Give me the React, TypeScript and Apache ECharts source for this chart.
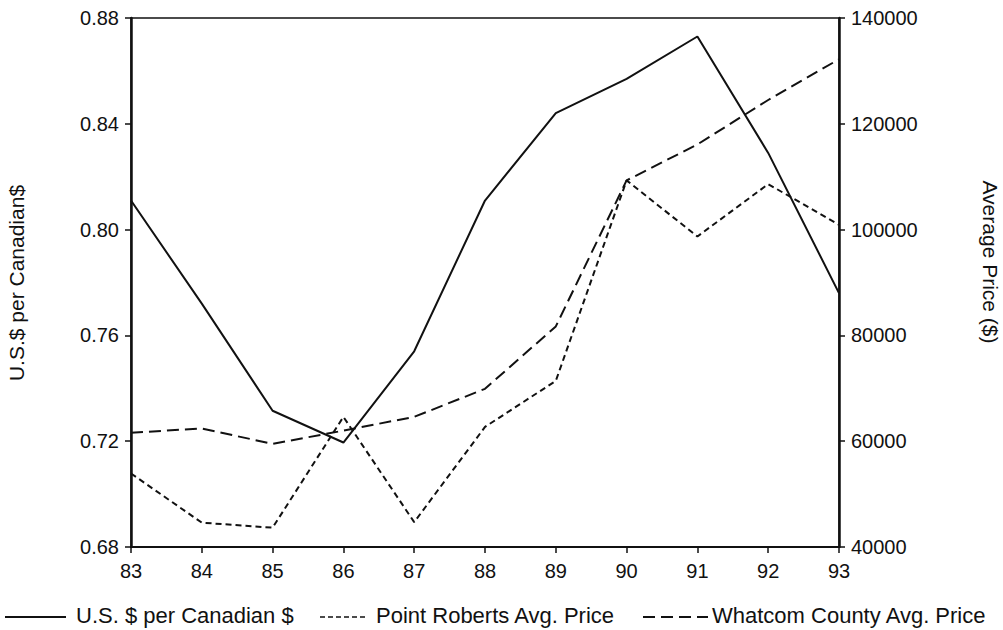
import React, { useEffect, useRef } from "react";
import * as echarts from "echarts";

const years = ["83", "84", "85", "86", "87", "88", "89", "90", "91", "92", "93"];
const usdPerCad = [0.811, 0.772, 0.7315, 0.7195, 0.754, 0.811, 0.844, 0.857, 0.873, 0.829, 0.776];
const pointRoberts = [53900, 44600, 43650, 64600, 44700, 62700, 71400, 109300, 98700, 108600, 100900];
const whatcom = [61600, 62400, 59500, 62000, 64600, 69900, 81700, 109300, 116100, 124500, 132200];

const leftTicks = { min: 0.68, max: 0.88, interval: 0.04 };
const rightTicks = { min: 40000, max: 140000, interval: 20000 };

const seriesNames = ["U.S. $ per Canadian $", "Point Roberts Avg. Price", "Whatcom County Avg. Price"];

const FONT = '"Liberation Sans", Arial, Helvetica, sans-serif';
const INK = "#111";

export default function App() {
  const ref = useRef<HTMLDivElement>(null);
  useEffect(() => {
    if (!ref.current) return;
    const chart = echarts.init(ref.current, undefined, { renderer: "svg" });
    const axisLabel = { color: INK, fontSize: 20, fontFamily: FONT };
    chart.setOption({
      animation: false,
      backgroundColor: "#fff",
      grid: {
        left: 131,
        right: 164,
        top: 18,
        bottom: 83,
        show: true,
        borderColor: INK,
        borderWidth: 1.5,
      },
      xAxis: {
        type: "category",
        data: years,
        boundaryGap: false,
        axisLine: { lineStyle: { color: INK, width: 2 } },
        axisTick: { show: true, length: 6, lineStyle: { color: INK, width: 1.5 } },
        axisLabel: { ...axisLabel, margin: 14 },
        splitLine: { show: false },
      },
      yAxis: [
        {
          type: "value",
          min: leftTicks.min,
          max: leftTicks.max,
          interval: leftTicks.interval,
          position: "left",
          axisLine: { show: true, lineStyle: { color: INK, width: 2.5 } },
          axisTick: { show: true, length: 6, lineStyle: { color: INK, width: 1.5 } },
          axisLabel: { ...axisLabel, margin: 12, formatter: (v: number) => v.toFixed(2) },
          splitLine: { show: false },
        },
        {
          type: "value",
          min: rightTicks.min,
          max: rightTicks.max,
          interval: rightTicks.interval,
          position: "right",
          axisLine: { show: true, lineStyle: { color: INK, width: 2.5 } },
          axisTick: { show: true, length: 6, lineStyle: { color: INK, width: 1.5 } },
          axisLabel: { ...axisLabel, margin: 12, formatter: (v: number) => String(v) },
          splitLine: { show: false },
        },
      ],
      series: [
        {
          name: seriesNames[0],
          type: "line",
          yAxisIndex: 0,
          data: usdPerCad,
          symbol: "none",
          lineStyle: { color: INK, width: 2, type: "solid" },
        },
        {
          name: seriesNames[1],
          type: "line",
          yAxisIndex: 1,
          data: pointRoberts,
          symbol: "none",
          lineStyle: { color: INK, width: 2, type: [6, 4] },
        },
        {
          name: seriesNames[2],
          type: "line",
          yAxisIndex: 1,
          data: whatcom,
          symbol: "none",
          lineStyle: { color: INK, width: 2, type: [12, 6] },
        },
      ],
      graphic: [
        {
          type: "text",
          x: 16,
          y: 283,
          rotation: Math.PI / 2,
          style: {
            text: "U.S.$ per Canadian$",
            font: `21px ${FONT}`,
            fill: INK,
            textAlign: "center",
            textVerticalAlign: "middle",
          },
        },
        {
          type: "text",
          x: 990,
          y: 262,
          rotation: -Math.PI / 2,
          style: {
            text: "Average Price ($)",
            font: `21px ${FONT}`,
            fill: INK,
            textAlign: "center",
            textVerticalAlign: "middle",
          },
        },
        {
          type: "line",
          shape: { x1: 5, y1: 617, x2: 66, y2: 617 },
          style: { stroke: INK, lineWidth: 2 },
        },
        {
          type: "text",
          x: 76,
          y: 615,
          style: { text: seriesNames[0], font: `22px ${FONT}`, fill: INK, textAlign: "left", textVerticalAlign: "middle" },
        },
        {
          type: "line",
          shape: { x1: 320, y1: 617, x2: 368, y2: 617 },
          style: { stroke: INK, lineWidth: 1.5, lineDash: [5, 3] },
        },
        {
          type: "text",
          x: 376,
          y: 615,
          style: { text: seriesNames[1], font: `22px ${FONT}`, fill: INK, textAlign: "left", textVerticalAlign: "middle" },
        },
        {
          type: "line",
          shape: { x1: 643, y1: 617, x2: 708, y2: 617 },
          style: { stroke: INK, lineWidth: 2, lineDash: [12, 6] },
        },
        {
          type: "text",
          x: 712,
          y: 615,
          style: { text: seriesNames[2], font: `22px ${FONT}`, fill: INK, textAlign: "left", textVerticalAlign: "middle" },
        },
      ],
    });
    return () => chart.dispose();
  }, []);
  return (
    <div
      ref={ref}
      style={{ position: "fixed", left: 0, top: 0, width: 1003, height: 630, background: "#fff" }}
    />
  );
}
